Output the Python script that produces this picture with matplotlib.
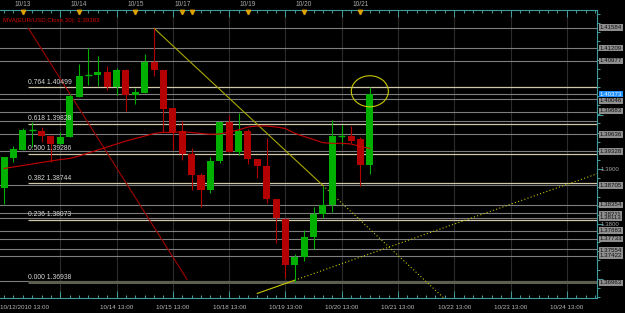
import numpy as np
import matplotlib
matplotlib.use("Agg")
import matplotlib.pyplot as plt
import matplotlib.transforms as mtrans
from matplotlib.patches import Ellipse

plt.rcParams["font.family"] = ["Liberation Sans", "DejaVu Sans"]

# ── 数据（4小时K线，EUR/USD）────────────────────────────────
opens = [1.38654, 1.39212, 1.39353, 1.39712, 1.39705, 1.39614, 1.39462, 1.39595, 1.40325, 1.40703,
         1.40721, 1.40770, 1.40508, 1.40812, 1.40356, 1.40398, 1.40964, 1.40812, 1.40114, 1.39699,
         1.39274, 1.38897, 1.38623, 1.39157, 1.39869, 1.39322, 1.39699, 1.39183, 1.39061, 1.38453,
         1.38099, 1.37255, 1.37406, 1.37771, 1.38185, 1.38349, 1.39603, 1.39608, 1.39548, 1.39079]
highs = [1.39220, 1.39426, 1.39749, 1.39869, 1.39778, 1.39630, 1.39687, 1.40369, 1.40922, 1.41208,
         1.41068, 1.40891, 1.40843, 1.40830, 1.40489, 1.41104, 1.41573, 1.40820, 1.40120, 1.39882,
         1.39384, 1.38933, 1.39230, 1.39875, 1.39991, 1.40033, 1.39730, 1.39190, 1.39577, 1.38460,
         1.38105, 1.37455, 1.37893, 1.38307, 1.38696, 1.39900, 1.39803, 1.39791, 1.39595, 1.40508]
lows = [1.38362, 1.39139, 1.39345, 1.39413, 1.39504, 1.39139, 1.39440, 1.39584, 1.40320, 1.40539,
        1.40526, 1.40447, 1.40356, 1.40064, 1.40186, 1.40390, 1.40708, 1.39687, 1.39353, 1.39170,
        1.38623, 1.38318, 1.38563, 1.39110, 1.39310, 1.39261, 1.39097, 1.38836, 1.38380, 1.37650,
        1.37012, 1.36950, 1.37333, 1.37541, 1.38106, 1.38227, 1.39444, 1.39475, 1.38696, 1.38915]
closes = [1.39220, 1.39365, 1.39718, 1.39718, 1.39614, 1.39462, 1.39584, 1.40343, 1.40708, 1.40721,
          1.40770, 1.40508, 1.40812, 1.40356, 1.40405, 1.40964, 1.40812, 1.40101, 1.39687, 1.39274,
          1.38897, 1.38623, 1.39152, 1.39869, 1.39322, 1.39699, 1.39183, 1.39061, 1.38453, 1.38118,
          1.37255, 1.37406, 1.37771, 1.38185, 1.38349, 1.39608, 1.39608, 1.39522, 1.39079, 1.40373]
ma30 = [1.39015, 1.39043, 1.39070, 1.39097, 1.39125, 1.39152, 1.39179, 1.39198, 1.39243, 1.39298,
        1.39353, 1.39407, 1.39462, 1.39517, 1.39563, 1.39608, 1.39654, 1.39676, 1.39672, 1.39687,
        1.39672, 1.39654, 1.39639, 1.39645, 1.39681, 1.39718, 1.39772, 1.39791, 1.39791, 1.39772,
        1.39745, 1.39657, 1.39599, 1.39544, 1.39486, 1.39475, 1.39475, 1.39462, 1.39417, 1.39383]

level_prices = [1.41584, 1.41209, 1.40977, 1.40046, 1.39883, 1.39636, 1.39328, 1.38705,
                1.38354, 1.38211, 1.38113, 1.37883, 1.37733, 1.37554, 1.37422, 1.36963]
extra_lines = [1.40278]
bid_price = 1.40373
fib_ratios = [0.764, 0.618, 0.500, 0.382, 0.236, 0.000]
fib_prices = [1.40499, 1.39828, 1.39286, 1.38744, 1.38073, 1.36938]
axis_prices = [1.3900, 1.3800]

red_tl = [(2.6, 1.41573), (19.5, 1.36994)]
res_tl = [(16, 1.41573), (34, 1.38705)]
sup_tl = [(27, 1.36736), (31, 1.36977)]
circle_mark = (39, 1.40424)

top_labels = ["10/13", "10/14", "10/15", "10/17", "10/19", "10/20", "10/21"]
top_label_idx = [2, 8, 14, 19, 26, 32, 38]
top_mark_idx = [2, 8, 14, 19, 20, 26, 32, 38]
bottom_labels = ["10/12/2010 13:00", "10/14 13:00", "10/15 13:00", "10/18 13:00", "10/19 13:00",
                 "10/20 13:00", "10/21 13:00", "10/22 13:00", "10/23 13:00", "10/24 13:00"]
title = "MVA(EUR/USD,Close,30): 1.39383"

# ── 样式 ──────────────────────────────────────────────────
GREEN = "#00b000"
RED = "#b40000"
TEAL = "#3f9c9c"
XMAX = 63.22
# 右侧价格标签避让（像素，向上）
LABEL_NUDGE = {1.40046: 11, 1.39883: 10, 1.38211: -1.5, 1.37554: -1.5, 1.36963: -2}

fig = plt.figure(figsize=(6.25, 3.13), dpi=100, facecolor="black")
ax = fig.add_axes([0, 15 / 313, 597 / 625, 288 / 313], facecolor="black")
ax.set_xlim(-0.43, XMAX)
ax.set_ylim(1.366524, 1.419069)

# 网格（每天一条）
for d in range(6, 64, 6):
    ax.axvline(d, color="#2c2c2c", lw=0.8, zorder=0)

# 水平线
for p in level_prices + extra_lines + [bid_price]:
    ax.axhline(p, color="#7e7e7e", lw=0.8, zorder=1)

# 斐波那契
for r, p in zip(fib_ratios, fib_prices):
    if r == 0:
        ax.hlines(p, 2.56, XMAX, color="#5e5e50", lw=2.2, zorder=1)
    else:
        ax.hlines(p, 2.56, XMAX, color="#cfc7a8", lw=0.9, zorder=1)
    ax.annotate(f"{r:.3f} {p:.5f}", (2.56, p), xytext=(0, 1.2), textcoords="offset points",
                fontsize=4.9, color="#d8d8d8", va="bottom", ha="left", zorder=8)

# K线
for i, (o, h, l, c) in enumerate(zip(opens, highs, lows, closes)):
    col = GREEN if c >= o else RED
    ax.vlines(i, l, h, color=col, lw=0.8, zorder=4)
    if abs(c - o) < 0.0002:
        ax.hlines((o + c) / 2, i - 0.38, i + 0.38, color=col, lw=1.0, zorder=5)
    else:
        ax.bar(i, abs(c - o), bottom=min(o, c), width=0.75, color=col, lw=0, zorder=5)

# 均线
ax.plot(range(len(ma30)), ma30, color="#c80000", lw=0.8, zorder=6)

# 趋势线
def ray(pts):
    (x0, y0), (x1, y1) = pts
    k = (y1 - y0) / (x1 - x0)
    return [x1, XMAX], [y1, y1 + k * (XMAX - x1)]

ax.plot(*zip(*red_tl), color="#a00000", lw=0.8, zorder=3)
ax.plot(*zip(*res_tl), color="#a8a800", lw=0.8, zorder=3)
ax.plot(*ray(res_tl), color="#c8c800", lw=0.8, ls=(0, (1, 2)), zorder=3)
ax.plot(*zip(*sup_tl), color="#c8c800", lw=0.8, zorder=3)
ax.plot(*ray(sup_tl), color="#c8c800", lw=0.8, ls=(0, (1, 2)), zorder=3)

ax.add_patch(Ellipse(circle_mark, 3.95, 0.00566, fill=False, ec="#c8c800", lw=0.8, zorder=7))

# 坐标轴
ax.spines["left"].set_visible(False)
for s in ["top", "bottom", "right"]:
    ax.spines[s].set_color(TEAL)
    ax.spines[s].set_linewidth(0.8)
ax.set_xticks(np.arange(6, 64, 6))
ax.set_xticks(np.arange(0, 64), minor=True)
ax.tick_params(axis="x", which="both", top=True, bottom=True, direction="in",
               color=TEAL, labelbottom=False, width=0.7)
ax.tick_params(axis="x", which="major", length=5)
ax.tick_params(axis="x", which="minor", length=2)
ax.set_yticks(np.arange(1.37, 1.42, 0.01))
ax.set_yticks(np.arange(1.3667, 1.419, 0.01 / 6), minor=True)
ax.tick_params(axis="y", which="both", left=False, right=True, direction="out",
               color=TEAL, labelleft=False, width=0.7)
ax.tick_params(axis="y", which="major", length=4)
ax.tick_params(axis="y", which="minor", length=2)

xa = mtrans.blended_transform_factory(ax.transData, ax.transAxes)
ya = mtrans.blended_transform_factory(ax.transAxes, ax.transData)

ax.plot(top_mark_idx, [0.992] * len(top_mark_idx), ls="none", marker="v", ms=3.2,
        color="#d9a000", transform=xa, clip_on=False, zorder=9)
for lbl, i in zip(top_labels, top_label_idx):
    ax.text(i, 1.018, lbl, transform=xa, fontsize=4.8, color="#a8a8a8", ha="center", va="center")

ax.text(0.0, -0.033, bottom_labels[0], transform=ax.transAxes, fontsize=4.5,
        color="#b8b8b8", ha="left", va="center")
for k, lbl in enumerate(bottom_labels[1:]):
    ax.text(12 + 6 * k, -0.033, lbl, transform=xa, fontsize=4.5, color="#b8b8b8",
            ha="center", va="center")

for p in axis_prices:
    ax.text(1.006, p, f"{p:.4f}", transform=ya, fontsize=4.4, color="#a0a0a0",
            ha="left", va="center", clip_on=False)
for p in level_prices:
    ax.annotate(f"{p:.5f}", (1.0045, p), xycoords=ya, xytext=(0, LABEL_NUDGE.get(p, 0)),
                textcoords="offset pixels", fontsize=4.4, color="#101010",
                ha="left", va="center", annotation_clip=False,
                bbox=dict(boxstyle="square,pad=0.12", fc="#8e8e8e", ec="none"))
ax.text(1.0045, bid_price, f"{bid_price:.5f}", transform=ya, fontsize=4.4, color="#f0f8ff",
        ha="left", va="center", clip_on=False,
        bbox=dict(boxstyle="square,pad=0.12", fc="#1f8fff", ec="none"))

ax.text(0.005, 0.965, title, transform=ax.transAxes, fontsize=4.45, color="#d40000",
        ha="left", va="center")

fig.savefig("out.png", dpi=100, facecolor="black")
